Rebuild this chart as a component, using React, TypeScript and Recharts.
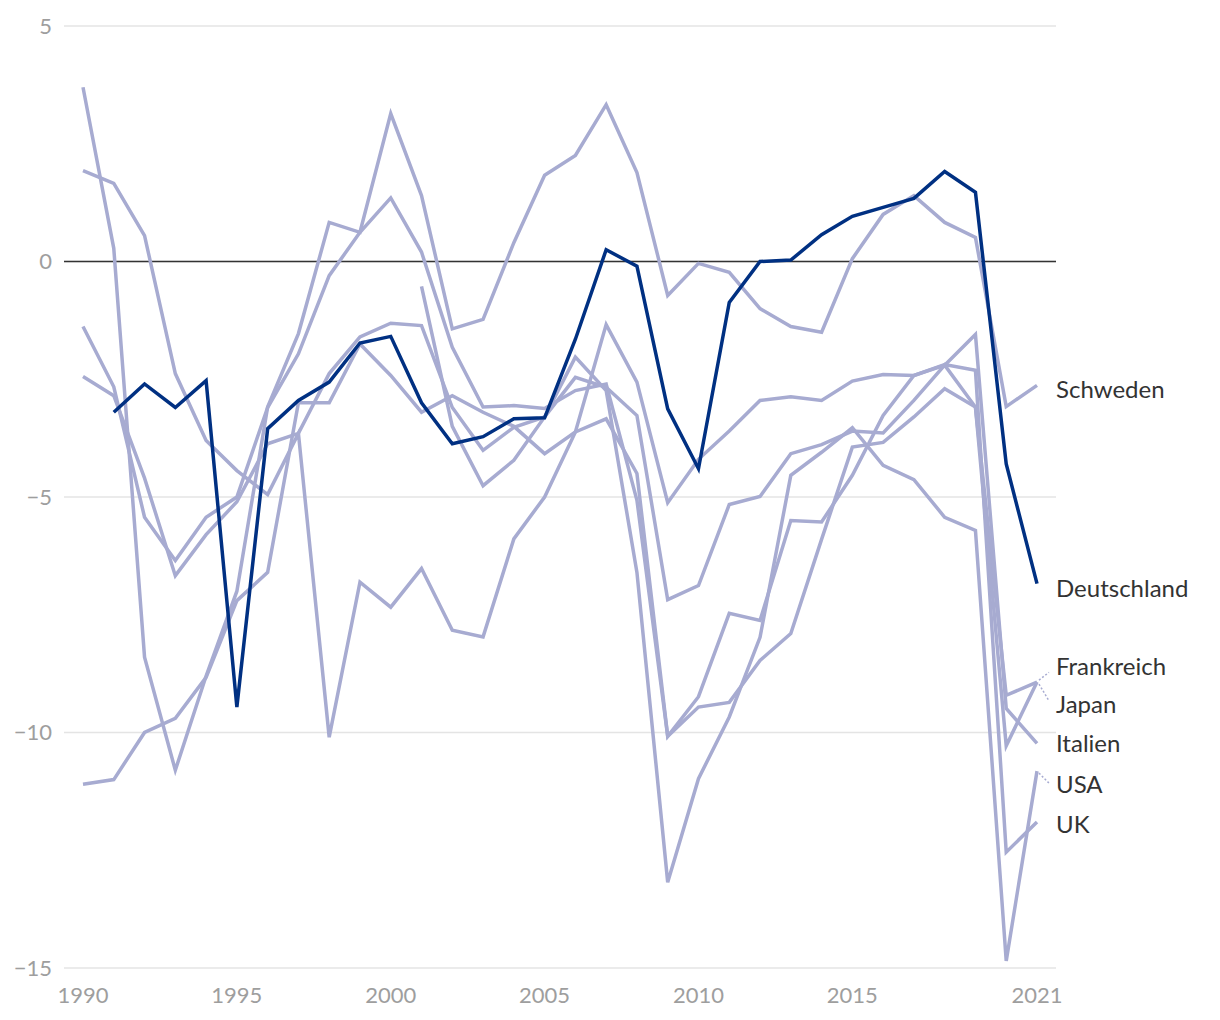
import React from 'react'
import { CartesianGrid, Line, LineChart, ReferenceLine, XAxis, YAxis } from 'recharts'

const years = [
  1990, 1991, 1992, 1993, 1994, 1995, 1996, 1997, 1998, 1999,
  2000, 2001, 2002, 2003, 2004, 2005, 2006, 2007, 2008, 2009,
  2010, 2011, 2012, 2013, 2014, 2015, 2016, 2017, 2018, 2019,
  2020, 2021,
]

const xTicks = [1990, 1995, 2000, 2005, 2010, 2015, 2021]
const yTicks = [-15, -10, -5, 0, 5]

const schweden = [
  3.7, 0.28, -8.4, -10.8, -8.8, -7.0, -3.09, -1.53, 0.83, 0.62,
  3.14, 1.4, -1.43, -1.23, 0.4, 1.83, 2.25, 3.33, 1.89, -0.72,
  -0.04, -0.23, -1.0, -1.38, -1.5, 0.06, 1.0, 1.4, 0.83, 0.51,
  -3.08, -2.63,
]

const japan = [
  1.93, 1.66, 0.55, -2.38, -3.8, -4.44, -4.95, -3.65, -10.1, -6.81,
  -7.34, -6.52, -7.83, -7.97, -5.89, -5.0, -3.62, -3.34, -4.5, -10.08,
  -9.46, -9.36, -8.47, -7.9, -5.9, -3.94, -3.84, -3.3, -2.7, -3.09,
  -10.28, -8.93,
]

const italien = [
  -11.1, -11.0, -10.0, -9.7, -8.83, -7.2, -6.6, -3.0, -3.0, -1.75,
  -2.42, -3.2, -2.85, -3.2, -3.5, -4.08, -3.62, -1.34, -2.56, -5.12,
  -4.2, -3.6, -2.95, -2.87, -2.95, -2.54, -2.4, -2.42, -2.2, -1.55,
  -9.49, -10.23,
]

const frankreich = [
  -2.44, -2.85, -4.6, -6.67, -5.8, -5.1, -3.87, -3.65, -2.38, -1.6,
  -1.31, -1.36, -3.1, -4.01, -3.52, -3.3, -2.46, -2.67, -3.27, -7.18,
  -6.88, -5.16, -4.99, -4.08, -3.89, -3.6, -3.64, -2.95, -2.2, -3.09,
  -9.21, -8.93,
]

const uk = [
  -1.38, -2.66, -5.43, -6.35, -5.43, -5.0, -3.1, -1.96, -0.3, 0.62,
  1.35, 0.2, -1.82, -3.09, -3.06, -3.12, -2.74, -2.6, -5.07, -10.08,
  -9.24, -7.47, -7.62, -5.5, -5.53, -4.54, -3.27, -2.42, -2.19, -2.31,
  -12.54, -11.9,
]

const usa = [
  null, null, null, null, null, null, null, null, null, null,
  null, -0.53, -3.5, -4.76, -4.22, -3.3, -2.03, -2.74, -6.6, -13.18,
  -10.98, -9.67, -7.98, -4.54, -4.05, -3.53, -4.33, -4.63, -5.43, -5.71,
  -14.85, -10.82,
]

const deutschland = [
  null, -3.2, -2.6, -3.1, -2.53, -9.46, -3.55, -2.95, -2.56, -1.73,
  -1.59, -3.0, -3.87, -3.72, -3.34, -3.32, -1.65, 0.25, -0.1, -3.13,
  -4.4, -0.87, 0.0, 0.03, 0.57, 0.96, 1.15, 1.34, 1.91, 1.47,
  -4.3, -6.84,
]

const data = years.map((year, i) => ({
  year,
  Schweden: schweden[i],
  Japan: japan[i],
  Italien: italien[i],
  Frankreich: frankreich[i],
  UK: uk[i],
  USA: usa[i],
  Deutschland: deutschland[i],
}))

const light = '#a7abd1'
const dark = '#003082'
const font = 'Lato, "Open Sans", sans-serif'

// how far each end label sits from its line's last point
const labelShift: Record<string, number> = {
  Schweden: 7,
  Deutschland: 7,
  Frankreich: -13,
  Japan: 25,
  Italien: 3,
  USA: 16,
  UK: 5,
}

const lightSeries = ['Italien', 'UK', 'USA', 'Frankreich', 'Japan', 'Schweden']

function endLabel(name: string) {
  return (props: any) => {
    const { x, y, index } = props
    if (index !== years.length - 1 || x == null || y == null) return null
    const dy = labelShift[name] || 0
    return (
      <g key={name}>
        {Math.abs(dy) > 10 && (
          <line
            x1={x + 2}
            y1={y + Math.sign(dy) * 2}
            x2={x + 12}
            y2={y + dy * 0.75}
            stroke={light}
            strokeWidth={1.5}
            strokeDasharray="2 2"
          />
        )}
        <text
          x={x + 19}
          y={y + dy}
          dominantBaseline="middle"
          fill="#333"
          fontSize={24}
          fontFamily={font}
        >
          {name}
        </text>
      </g>
    )
  }
}

export default function App() {
  return (
    <div style={{ position: 'absolute', left: 0, top: 0 }}>
      <LineChart width={1220} height={1020} data={data} margin={{ top: 26, right: 164, bottom: 0, left: 0 }}>
        <CartesianGrid vertical={false} stroke="#e4e4e4" strokeWidth={1.5} />
        <XAxis
          dataKey="year"
          type="number"
          domain={[1990, 2021]}
          ticks={xTicks}
          padding={{ left: 19, right: 19 }}
          axisLine={false}
          tickLine={false}
          height={52}
          tickMargin={13}
          tick={{ fill: '#9e9e9e', fontSize: 22, fontFamily: font }}
        />
        <YAxis
          domain={[-15, 5]}
          ticks={yTicks}
          interval={0}
          width={64}
          axisLine={false}
          tickLine={false}
          tickMargin={6}
          tickFormatter={(v: number) => (v < 0 ? `\u2212${Math.abs(v)}` : `${v}`)}
          tick={{ fill: '#9e9e9e', fontSize: 22, fontFamily: font }}
        />
        <ReferenceLine y={0} stroke="#333" strokeWidth={1.5} />
        {lightSeries.map((name) => (
          <Line
            key={name}
            dataKey={name}
            stroke={light}
            strokeWidth={3.5}
            dot={false}
            type="linear"
            isAnimationActive={false}
            label={endLabel(name)}
          />
        ))}
        <Line
          dataKey="Deutschland"
          stroke={dark}
          strokeWidth={3.5}
          dot={false}
          type="linear"
          isAnimationActive={false}
          label={endLabel('Deutschland')}
        />
      </LineChart>
    </div>
  )
}
